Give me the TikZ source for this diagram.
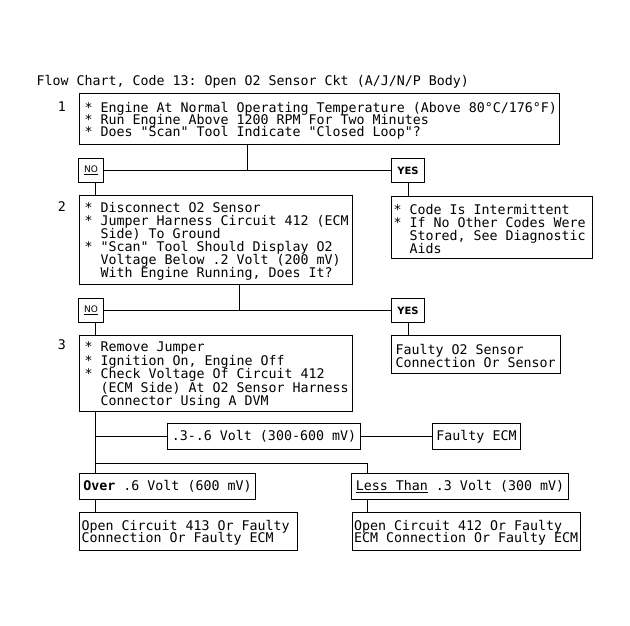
\documentclass[tikz,border=0pt]{standalone}
\usepackage{fontspec}
\setmonofont{DejaVu Sans Mono}
\newfontfamily\lblfont{DejaVu Sans}
\newcommand\itemstar{{*}~}
\newcommand\hangsp{\hphantom{*~}}
\newcommand\boxfont{\ttfamily\frenchspacing\fontsize{13.3}{12}\selectfont}
\newcommand\txtlines[2][13pt]{\boxfont\spaceskip=0pt\xspaceskip=0pt\relax\vbox{\kern3pt\baselineskip=#1\lineskiplimit=-20pt\let\\\cr\halign{##\hfil\cr#2\crcr}}}
\begin{document}
\begin{tikzpicture}[x=1pt,y=-1pt,line width=1pt,
  every node/.style={font=\boxfont},
  box/.style={draw,line width=1pt,anchor=north west,inner xsep=5pt,inner ysep=0pt,align=left},
  sbox/.style={draw,line width=1pt,anchor=north west,inner sep=0pt,minimum height=26pt},
  tag/.style={draw,line width=1pt,anchor=north west,inner sep=0pt,minimum width=25pt,minimum height=24pt,font=\lblfont\fontsize{9}{10}\selectfont},
  yestag/.style={tag,minimum width=33pt,font=\lblfont\bfseries\fontsize{10}{10}\selectfont},
  num/.style={anchor=base,inner sep=0pt}]
\useasboundingbox[fill=white] (0,0) rectangle (630,626);

\node[anchor=base west,inner sep=0pt] (title) at (36,85) {Flow Chart, Code 13: Open O2 Sensor Ckt (A/J/N/P Body)};

% step 1
\node[num] (n1) at (62,111) {1};
\node[box,text width=470pt,minimum height=51pt] (b1) at (79,93) {\txtlines[12pt]{%
\itemstar Engine At Normal Operating Temperature (Above 80°C/176°F)\\
\itemstar Run Engine Above 1200 RPM For Two Minutes\\
\itemstar Does "Scan" Tool Indicate "Closed Loop"?}};
\node[tag] (no1) at (78,158) {\underline{NO}};
\node[yestag] (yes1) at (391,158) {YES};
\node[box,inner xsep=2pt,text width=197pt,minimum height=62pt] (r1) at (391,196) {\txtlines[12.9pt]{%
\itemstar Code Is Intermittent\\
\itemstar If No Other Codes Were\\
\hangsp Stored, See Diagnostic\\
\hangsp Aids}};

% step 2
\node[num] (n2) at (62,211) {2};
\node[box,text width=263pt,minimum height=89pt] (b2) at (79,195) {\txtlines[13pt]{%
\itemstar Disconnect O2 Sensor\\
\itemstar Jumper Harness Circuit 412 (ECM\\
\hangsp Side) To Ground\\
\itemstar "Scan" Tool Should Display O2\\
\hangsp Voltage Below .2 Volt (200 mV)\\
\hangsp With Engine Running, Does It?}};
\node[tag] (no2) at (78,298) {\underline{NO}};
\node[yestag] (yes2) at (391,298) {YES};
\node[box,inner xsep=4pt,text width=161pt,minimum height=38pt] (r2) at (391,335) {\txtlines[13pt]{%
Faulty O2 Sensor\\
Connection Or Sensor}};

% step 3
\node[num] (n3) at (62,349) {3};
\node[box,text width=263pt,minimum height=76pt] (b3) at (79,335) {\txtlines[13.5pt]{%
\itemstar Remove Jumper\\
\itemstar Ignition On, Engine Off\\
\itemstar Check Voltage Of Circuit 412\\
\hangsp (ECM Side) At O2 Sensor Harness\\
\hangsp Connector Using A DVM}};
\node[sbox,minimum width=193pt] (mid) at (167,423) {.3-.6 Volt (300-600 mV)};
\node[sbox,minimum width=88pt] (ecm) at (432,423) {Faulty ECM};
\node[sbox,minimum width=176pt] (over) at (79,473) {\textbf{Over} .6 Volt (600 mV)};
\node[sbox,minimum width=217pt] (less) at (351,473) {\underline{Less Than} .3 Volt (300 mV)};
\node[box,inner xsep=2pt,text width=214pt,minimum height=38pt] (res1) at (79,512) {\txtlines[12pt]{%
Open Circuit 413 Or Faulty\\
Connection Or Faulty ECM}};
\node[box,inner xsep=1.5pt,text width=225pt,minimum height=38pt] (res2) at (352,512) {\txtlines[12pt]{%
Open Circuit 412 Or Faulty\\
ECM Connection Or Faulty ECM}};

% connectors
\coordinate (j1) at (247,170);
\coordinate (k1) at (95,0);
\coordinate (j2) at (239,310);
\coordinate (j3) at (95,463);
\coordinate (j4) at (367,463);
\draw (b1.south -| j1) -- (j1);
\draw (no1.east) -- (yes1.west);
\draw (no1.south -| k1) -- (b2.north -| k1);
\draw (yes1.south) -- (r1.north -| yes1.south);
\draw (b2.south -| j2) -- (j2);
\draw (no2.east) -- (yes2.west);
\draw (no2.south -| k1) -- (b3.north -| k1);
\draw (yes2.south) -- (r2.north -| yes2.south);
\draw (b3.south -| k1) -- (over.north -| k1);
\draw (mid.west -| k1) -- (mid.west);
\draw (mid.east) -- (ecm.west);
\draw (j3) -- (j4) -- (less.north -| j4);
\draw (over.south -| k1) -- (res1.north -| k1);
\draw (less.south -| j4) -- (res2.north -| j4);
\end{tikzpicture}
\end{document}
